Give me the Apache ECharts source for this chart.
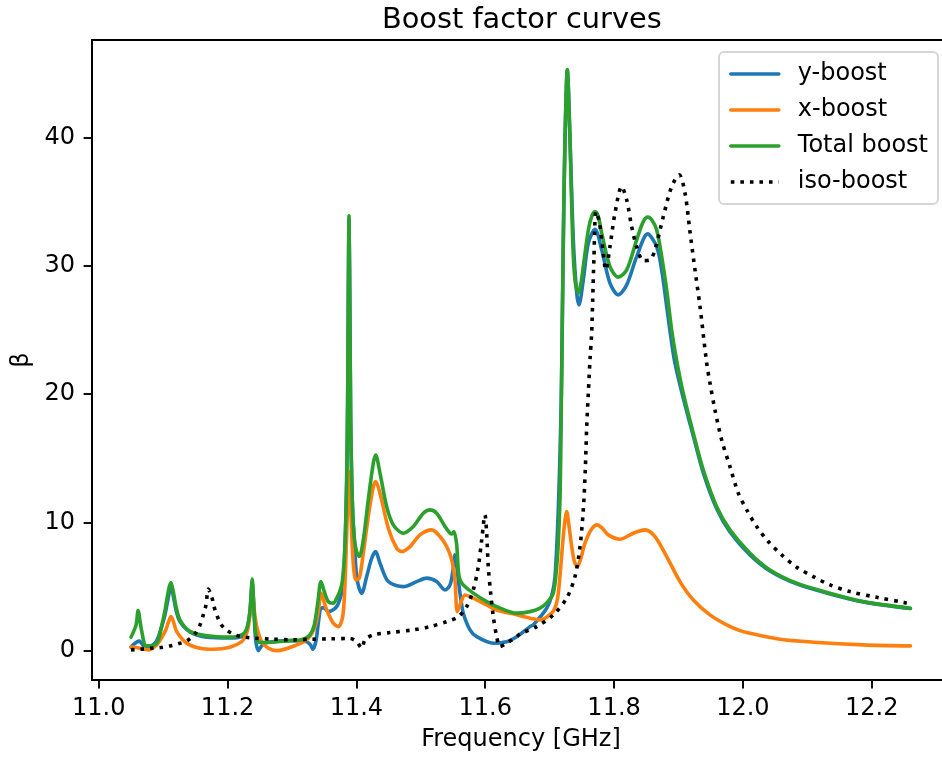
<!DOCTYPE html>
<html><head><meta charset="utf-8">
<script src="https://cdn.jsdelivr.net/npm/echarts@6/dist/echarts.min.js"></script>
<style>html,body{margin:0;padding:0;background:#fff}#c{width:942px;height:759px}</style>
</head><body><div id="c"></div>
<script>
// ---- data: [frequency GHz, beta] ----
const yBoost = [[11.050,0.29],[11.0532,0.47],[11.0594,0.70],[11.0629,0.76],[11.0671,0.55],[11.0718,0.29],[11.0822,0.39],[11.0899,0.78],[11.0977,1.89],[11.1028,2.81],[11.1067,3.82],[11.1121,5.01],[11.1160,4.21],[11.1199,3.19],[11.1261,2.28],[11.1416,1.48],[11.1676,1.07],[11.2037,1.01],[11.2244,1.17],[11.2306,1.79],[11.2348,3.04],[11.2383,5.28],[11.2410,3.04],[11.2436,0.86],[11.2477,0.02],[11.2529,0.39],[11.2607,0.65],[11.2969,0.80],[11.3228,0.72],[11.3287,0.47],[11.3321,0.13],[11.3357,0.47],[11.3383,1.11],[11.3411,2.26],[11.3450,3.33],[11.3497,3.35],[11.3563,3.06],[11.3694,3.45],[11.3771,4.50],[11.3796,5.14],[11.3823,8.26],[11.3849,13.32],[11.3864,19.56],[11.3874,27.35],[11.3885,33.59],[11.3897,27.35],[11.3911,18.0],[11.3927,13.32],[11.3947,10.21],[11.3962,9.17],[11.3983,7.09],[11.4004,5.79],[11.4040,4.91],[11.4082,4.50],[11.4159,5.79],[11.4237,7.22],[11.4299,7.74],[11.4366,6.83],[11.4495,5.40],[11.4728,5.01],[11.4936,5.40],[11.5091,5.67],[11.5246,5.40],[11.5375,4.75],[11.5453,5.14],[11.5499,6.31],[11.5530,7.48],[11.5557,6.70],[11.5581,5.53],[11.5623,3.97],[11.5659,2.94],[11.5763,1.64],[11.5867,1.11],[11.6125,0.60],[11.6333,0.72],[11.6488,1.11],[11.6695,1.89],[11.6746,2.03],[11.6954,3.33],[11.7031,4.29],[11.7083,5.79],[11.7134,10.99],[11.7171,17.48],[11.7187,21.9],[11.7212,32.03],[11.7238,39.82],[11.7274,45.22],[11.7316,39.82],[11.7367,32.03],[11.7420,27.87],[11.7455,26.96],[11.7522,28.91],[11.7600,31.77],[11.7704,32.86],[11.7808,31.25],[11.7936,28.65],[11.8065,27.74],[11.8196,28.52],[11.8351,30.72],[11.8522,32.49],[11.8661,31.50],[11.8739,29.69],[11.8817,26.83],[11.8894,24.00],[11.8946,22.40],[11.9074,19.70],[11.9230,16.75],[11.9385,13.87],[11.9593,11.07],[11.9799,9.27],[12.0110,7.48],[12.0420,6.23],[12.0835,5.22],[12.1352,4.44],[12.1869,3.82],[12.2600,3.30]];

const xBoost = [[11.050,0.31],[11.0625,0.23],[11.0769,0.08],[11.0899,0.47],[11.1028,1.50],[11.1083,2.26],[11.1121,2.67],[11.1160,2.26],[11.1210,1.50],[11.1365,0.60],[11.1572,0.21],[11.1778,0.13],[11.2037,0.29],[11.2219,0.72],[11.2286,1.25],[11.2321,1.89],[11.2356,3.19],[11.2383,5.01],[11.2410,3.35],[11.2452,1.89],[11.2529,0.72],[11.2627,0.23],[11.2762,0.02],[11.3073,0.47],[11.3253,0.99],[11.3357,1.89],[11.3411,3.19],[11.3450,4.50],[11.3489,3.97],[11.3539,3.19],[11.3641,2.16],[11.3719,1.89],[11.3787,2.67],[11.3823,5.28],[11.3849,9.17],[11.3869,12.16],[11.3885,13.97],[11.3900,12.55],[11.3916,10.47],[11.3951,6.83],[11.3993,5.53],[11.4045,5.67],[11.4107,7.61],[11.4184,10.47],[11.4262,12.80],[11.4299,13.19],[11.4366,12.29],[11.4495,9.56],[11.4625,8.00],[11.4703,7.74],[11.4832,8.13],[11.4987,9.04],[11.5169,9.43],[11.5297,8.91],[11.5401,8.13],[11.5479,7.09],[11.5530,5.53],[11.5566,3.06],[11.5619,3.72],[11.5685,4.36],[11.5814,4.11],[11.6022,3.58],[11.6178,3.19],[11.6488,2.81],[11.6695,2.55],[11.6850,2.42],[11.7031,2.94],[11.7098,3.58],[11.7134,4.50],[11.7168,6.31],[11.7202,8.39],[11.7238,10.21],[11.7264,10.85],[11.7292,10.05],[11.7342,8.13],[11.7385,6.94],[11.7429,6.57],[11.7486,7.25],[11.7548,8.39],[11.7642,9.43],[11.7739,9.82],[11.7812,9.58],[11.7910,9.04],[11.8092,8.70],[11.8298,9.17],[11.8480,9.43],[11.8635,8.91],[11.8817,7.35],[11.9023,5.40],[11.9230,3.97],[11.9489,2.81],[11.9748,2.03],[11.9955,1.58],[12.0110,1.38],[12.0576,0.91],[12.1093,0.68],[12.1869,0.47],[12.2600,0.39]];

const totalBoost = [[11.050,1.07],[11.058,2.03],[11.061,3.14],[11.0663,1.64],[11.074,0.40],[11.090,0.60],[11.098,2.03],[11.103,3.20],[11.1055,3.97],[11.109,4.89],[11.112,5.32],[11.1157,4.62],[11.120,3.45],[11.126,2.42],[11.142,1.50],[11.168,1.17],[11.204,1.07],[11.224,1.32],[11.2306,1.89],[11.2348,3.19],[11.2383,5.59],[11.241,3.19],[11.2436,1.38],[11.2477,0.72],[11.2554,0.65],[11.297,0.80],[11.3175,0.91],[11.3279,1.25],[11.3346,2.03],[11.3399,3.72],[11.345,5.40],[11.3501,4.62],[11.3563,3.84],[11.3641,3.72],[11.3694,4.11],[11.3745,4.68],[11.3784,5.53],[11.3823,8.26],[11.3849,13.32],[11.3864,19.56],[11.3874,27.35],[11.3885,33.90],[11.3897,27.35],[11.3911,18.0],[11.3927,13.32],[11.3947,10.21],[11.3970,8.65],[11.4004,7.71],[11.4045,7.35],[11.4107,8.65],[11.4184,11.77],[11.4262,14.63],[11.4299,15.27],[11.4366,13.85],[11.4470,11.24],[11.4572,9.82],[11.4728,9.17],[11.4883,9.69],[11.5038,10.73],[11.5142,10.99],[11.5246,10.73],[11.5375,9.69],[11.5453,9.17],[11.5484,9.12],[11.5515,9.30],[11.5557,8.26],[11.5581,6.31],[11.5608,5.53],[11.5659,5.14],[11.5814,4.50],[11.6022,3.84],[11.6178,3.45],[11.6488,2.94],[11.6695,3.06],[11.685,3.33],[11.6954,3.74],[11.7056,4.50],[11.7109,6.57],[11.7134,8.39],[11.716,11.77],[11.7171,14.88],[11.7187,21.9],[11.7212,32.03],[11.7238,39.8],[11.7274,45.30],[11.7316,39.8],[11.7357,32.03],[11.7393,28.9],[11.7444,27.87],[11.7486,28.65],[11.7522,29.95],[11.7600,32.8],[11.7652,33.84],[11.7704,34.23],[11.7755,33.84],[11.7808,32.55],[11.7936,29.95],[11.8065,29.12],[11.8196,29.69],[11.8351,32.03],[11.8453,33.45],[11.8522,33.80],[11.8584,33.59],[11.8661,32.81],[11.8739,30.73],[11.8817,28.13],[11.8894,25.01],[11.8972,22.60],[11.9074,20.08],[11.9230,16.96],[11.9385,14.10],[11.9593,11.24],[11.9799,9.43],[12.0110,7.61],[12.0420,6.31],[12.0835,5.28],[12.1352,4.50],[12.1869,3.84],[12.2600,3.33]];

const isoBoost = [[11.050,0.08],[11.0640,0.13],[11.0806,0.21],[11.0951,0.26],[11.1106,0.39],[11.1235,0.55],[11.1374,0.80],[11.1494,1.32],[11.1572,2.03],[11.1623,2.81],[11.1665,3.58],[11.1700,4.81],[11.1753,4.23],[11.1789,3.45],[11.1831,2.81],[11.1893,2.10],[11.1995,1.58],[11.2130,1.22],[11.2270,1.07],[11.2425,0.99],[11.2709,0.91],[11.3020,0.86],[11.3306,0.91],[11.3590,0.94],[11.3900,0.97],[11.4004,0.72],[11.4082,0.21],[11.4133,0.86],[11.4262,1.25],[11.4521,1.43],[11.4883,1.64],[11.5142,1.89],[11.5401,2.28],[11.5581,2.67],[11.5712,3.45],[11.5814,4.75],[11.5892,6.57],[11.5945,8.65],[11.5996,10.60],[11.6022,9.17],[11.6047,6.57],[11.6084,4.50],[11.6125,2.67],[11.6178,1.11],[11.6229,0.34],[11.6333,0.60],[11.6488,1.11],[11.6539,1.32],[11.6799,1.89],[11.7056,2.81],[11.7264,4.11],[11.7393,5.79],[11.7471,8.13],[11.7522,10.99],[11.7553,14.10],[11.7575,17.48],[11.7600,20.08],[11.7626,22.68],[11.7652,24.76],[11.7668,27.35],[11.7688,30.72],[11.7719,34.23],[11.7770,33.45],[11.7808,32.03],[11.7874,29.69],[11.7936,31.50],[11.8014,34.11],[11.8118,36.18],[11.8196,35.14],[11.8273,33.06],[11.8351,31.50],[11.8453,30.41],[11.8557,30.47],[11.8635,31.25],[11.8764,33.84],[11.8894,36.18],[11.9012,37.09],[11.9101,35.67],[11.9178,32.67],[11.9256,29.69],[11.9334,26.83],[11.9438,22.42],[11.9489,20.86],[11.9566,18.78],[11.9670,16.44],[11.9799,14.36],[11.9928,12.29],[12.0059,10.99],[12.0214,9.69],[12.0394,8.52],[12.0602,7.48],[12.0835,6.52],[12.1093,5.79],[12.1352,5.14],[12.1662,4.62],[12.2077,4.18],[12.2516,3.76],[12.2600,3.70]];

const xTicks = [11.0, 11.2, 11.4, 11.6, 11.8, 12.0, 12.2];
const yTicks = [0, 10, 20, 30, 40];
const seriesNames = ['y-boost', 'x-boost', 'Total boost', 'iso-boost'];

// ---- chart ----
const FONT = 'DejaVu Sans';
const chart = echarts.init(document.getElementById('c'), null, {renderer: 'canvas'});
function mk(name, data, color, dotted) {
  return {
    name, type: 'line', data, symbol: 'none', showSymbol: false,
    smooth: 0.3,
    animation: false, emphasis: {disabled: true},
    lineStyle: {color, width: 3.6, type: dotted ? [3.6, 5.94] : 'solid',
      cap: dotted ? 'butt' : 'round', join: 'round'},
    itemStyle: {color}
  };
}
const axisFont = {fontFamily: FONT, fontSize: 24, color: '#000'};
chart.setOption({
  animation: false,
  backgroundColor: '#fff',
  title: {text: 'Boost factor curves', left: 377, top: 1,
    textStyle: {fontFamily: FONT, fontSize: 28.8, fontWeight: 'normal', color: '#000'}},
  legend: {
    data: seriesNames, orient: 'vertical', right: 4, top: 52,
    padding: [10, 10, 10, 10], itemGap: 12, itemWidth: 48, itemHeight: 14,
    backgroundColor: 'rgba(255,255,255,0.8)', borderColor: '#d6d6d6', borderWidth: 2, borderRadius: 5,
    itemStyle: {opacity: 0},
    lineStyle: {width: 3.6},
    textStyle: {fontFamily: FONT, fontSize: 24, color: '#000', padding: [0, 0, 0, 14]},
    selectedMode: false
  },
  grid: {left: 92, right: -8, top: 40, bottom: 79, show: true, borderColor: '#000', borderWidth: 1.9,
    containLabel: false, outerBoundsMode: 'none'},
  xAxis: {
    type: 'value', min: 10.9895, max: 12.3215,
    name: 'Frequency [GHz]', nameLocation: 'middle', nameGap: 48, nameTextStyle: axisFont,
    axisLine: {show: true, onZero: false, lineStyle: {color: '#000', width: 1.9}},
    axisTick: {show: true, length: 8.4, customValues: xTicks, lineStyle: {color: '#000', width: 1.9}},
    axisLabel: Object.assign({customValues: xTicks, formatter: v => Number(v).toFixed(1), margin: 17}, axisFont),
    splitLine: {show: false}
  },
  yAxis: {
    type: 'value', min: -2.267, max: 47.6,
    name: 'β', nameLocation: 'middle', nameRotate: 90, nameGap: 46, nameTextStyle: axisFont,
    axisLine: {show: true, onZero: false, lineStyle: {color: '#000', width: 1.9}},
    axisTick: {show: true, length: 8.4, customValues: yTicks, lineStyle: {color: '#000', width: 1.9}},
    axisLabel: Object.assign({customValues: yTicks, margin: 17}, axisFont),
    splitLine: {show: false}
  },
  series: [
    mk(seriesNames[0], yBoost, '#1f77b4', false),
    mk(seriesNames[1], xBoost, '#ff7f0e', false),
    mk(seriesNames[2], totalBoost, '#2ca02c', false),
    mk(seriesNames[3], isoBoost, '#000000', true)
  ]
});
</script></body></html>
